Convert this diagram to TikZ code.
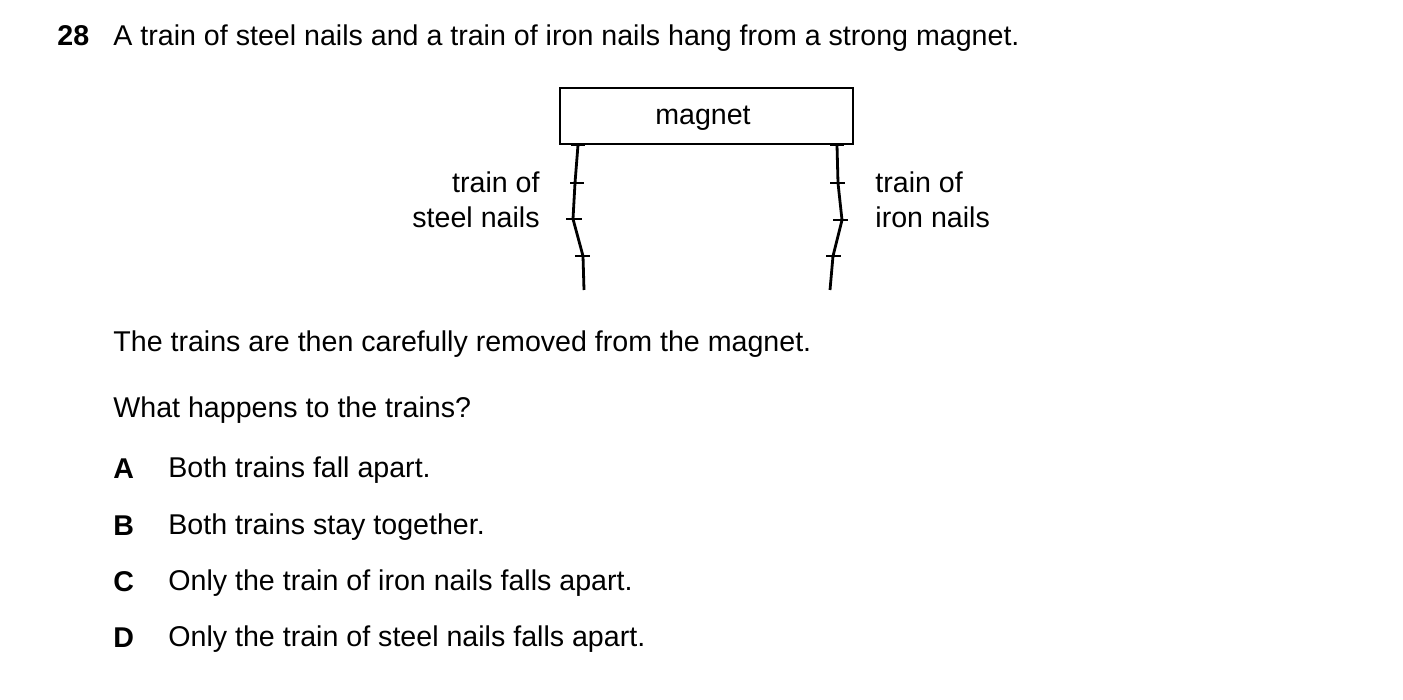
\documentclass[tikz,border=0pt]{standalone}
\usepackage{fontspec}
\setmainfont{Liberation Sans}
\begin{document}
\begin{tikzpicture}[x=0.5pt,y=-0.5pt,
  txt/.style={anchor=west,inner sep=0,font=\fontsize{14.3}{17}\selectfont},
  bl/.style={anchor=west,inner sep=0,font=\bfseries\fontsize{14.3}{17}\selectfont},
  nail/.style={line width=1.4pt},
  lbl/.style={inner sep=0,font=\fontsize{14.3}{17.5}\selectfont,align=left}]
\useasboundingbox (0,0) rectangle (1403,700);
\node[bl] (num) at (57,36) {28};
\node[txt] (q) at (113,38) {A train of steel nails and a train of iron nails hang from a strong magnet.};
\draw[line width=1pt] (560,88) rectangle (853,144);
\node[lbl] (mt) at (703,118) {magnet};
\draw[nail] (571,145)--(585,145);
\draw[nail] (578,145)--(575,183)--(573,219)--(583,256)--(584,290);
\draw[nail] (570,183)--(584,183) (566,219)--(582,219) (575,256)--(590,256);
\draw[nail] (830,145)--(844,145);
\draw[nail] (837,145)--(838,183)--(842,220)--(833,256)--(830,290);
\draw[nail] (830,183)--(845,183) (833,220)--(848,220) (826,256)--(841,256);
\node[lbl,anchor=east,align=right] (sl) at (540,200) {train of\\steel nails};
\node[lbl,anchor=west] (il) at (875,200) {train of\\iron nails};
\node[txt] (t1) at (113,344) {The trains are then carefully removed from the magnet.};
\node[txt] (t2) at (113,410) {What happens to the trains?};
\foreach \l/\s/\y in {A/Both trains fall apart./470,B/Both trains stay together./527,C/Only the train of iron nails falls apart./583,D/Only the train of steel nails falls apart./639}{
  \node[bl] (L\l) at (113,\y-1) {\l};
  \node[txt] (S\l) at (168,\y) {\s};
}
\end{tikzpicture}
\end{document}
